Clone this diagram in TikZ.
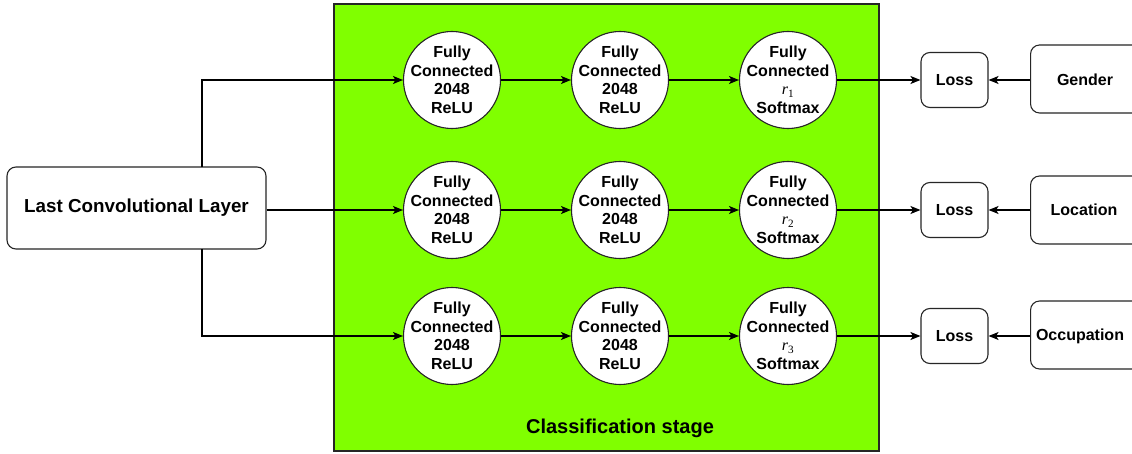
\documentclass[tikz,border=0pt]{standalone}
\usepackage{fontspec}
\setmainfont{Liberation Sans}
\newfontfamily\tmsfont{Liberation Serif}
\newcommand{\rvar}[1]{{\tmsfont\mdseries\itshape r}\textsubscript{\tmsfont\mdseries #1}}
\usetikzlibrary{arrows.meta}
\tikzset{
  fc/.style={circle, draw=black!85, fill=white, line width=1.1pt, minimum size=97pt, inner sep=-12pt, align=center, font=\fontsize{16}{18.5}\selectfont\bfseries},
  rbox/.style={draw=black!85, fill=white, rounded corners=9pt, line width=1.1pt, align=center, font=\fontsize{16}{18}\selectfont\bfseries, inner sep=0pt},
  arr/.style={-{Stealth[length=10pt,width=8pt,inset=2.5pt]}, line width=1.1pt},
  lbl/.style={font=\fontsize{16}{18}\selectfont\bfseries}
}
\begin{document}
\begin{tikzpicture}[x=1pt,y=-1pt]
\useasboundingbox (0,0) rectangle (1132,454);
\clip (0,0) rectangle (1132,454);
\fill[white] (0,0) rectangle (1132,454);
% green stage
\draw[fill={rgb,255:red,128;green,255;blue,0}, draw=black!85, line width=1.1pt] (334,4) rectangle (879,451);
\node[font=\fontsize{20}{22}\selectfont\bfseries] (stage) at (620,428) {Classification stage};
% last conv
\node[rbox, minimum width=259pt, minimum height=82pt, font=\fontsize{18.8}{20}\selectfont\bfseries] (conv) at (136.5,208) {Last Convolutional Layer};
\coordinate (ctop) at (202,167);
\coordinate (cbot) at (202,249);
% circles
\foreach \r/\y in {1/80,2/210,3/336}{
  \node[fc] (a\r) at (452,\y) {Fully\\Connected\\2048\\ReLU};
  \node[fc] (b\r) at (620,\y) {Fully\\Connected\\2048\\ReLU};
  \node[fc] (c\r) at (788,\y) {Fully\\Connected\\\rvar{\r}\\Softmax};
  \node[rbox, minimum width=67pt, minimum height=55pt] (l\r) at (954.5,\y) {Loss};
  \draw[arr] (a\r) -- (b\r);
  \draw[arr] (b\r) -- (c\r);
  \draw[arr] (c\r) -- (l\r);
}
\node[rbox, minimum width=120pt, minimum height=68pt, anchor=west] (g) at (1030,79) {};
\node[lbl] (gt) at (1085,80) {Gender};
\node[rbox, minimum width=120pt, minimum height=68pt, anchor=west] (lo) at (1030,210) {};
\node[lbl] (lot) at (1084,210) {Location};
\node[rbox, minimum width=120pt, minimum height=68pt, anchor=west] (oc) at (1030,335) {};
\node[lbl] (oct) at (1080,336) {Occupation};
\draw[arr] (g.west |- l1) -- (l1.east);
\draw[arr] (lo.west |- l2) -- (l2.east);
\draw[arr] (oc.west |- l3) -- (l3.east);
% conv to first column
\draw[arr] (ctop) |- (a1.west);
\draw[arr] (conv.east |- a2) -- (a2.west);
\draw[arr] (cbot) |- (a3.west);
\end{tikzpicture}
\end{document}
